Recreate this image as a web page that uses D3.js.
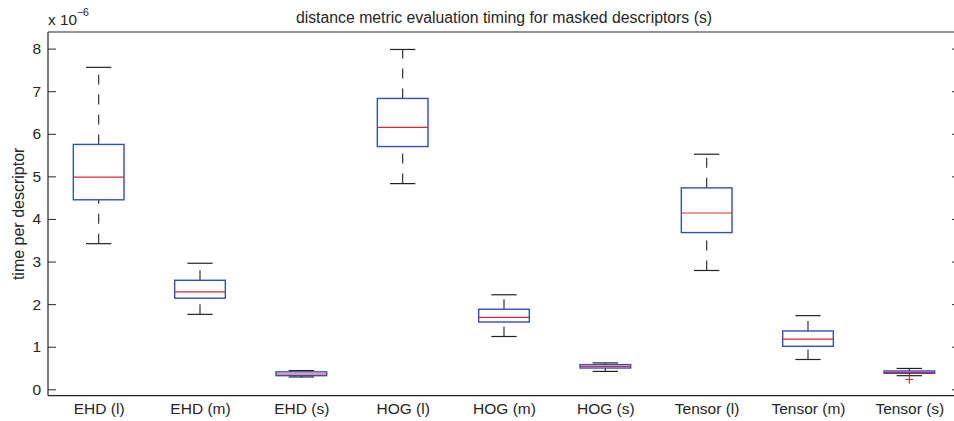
<!DOCTYPE html>
<html>
<head>
<meta charset="utf-8">
<script src="https://cdn.jsdelivr.net/npm/d3@7/dist/d3.min.js"></script>
<style>
  html, body { margin: 0; padding: 0; background: #fff; }
  text { font-family: "Liberation Sans", Arial, Helvetica, sans-serif; fill: #262626; }
</style>
</head>
<body>
<svg id="chart" width="954" height="421"></svg>
<script>
'use strict';

// categories and box statistics (x 1e-6 s)
var categories = ['EHD (l)', 'EHD (m)', 'EHD (s)', 'HOG (l)', 'HOG (m)', 'HOG (s)',
  'Tensor (l)', 'Tensor (m)', 'Tensor (s)'];
var upperWhisker = [7.56, 2.96, 0.44, 7.98, 2.22, 0.62, 5.52, 1.73, 0.49];
var q3 = [5.75, 2.56, 0.41, 6.83, 1.88, 0.58, 4.73, 1.37, 0.43];
var median = [4.98, 2.29, 0.36, 6.15, 1.69, 0.54, 4.14, 1.18, 0.40];
var q1 = [4.45, 2.14, 0.32, 5.70, 1.58, 0.50, 3.68, 1.01, 0.375];
var lowerWhisker = [3.42, 1.76, 0.29, 4.83, 1.24, 0.42, 2.79, 0.70, 0.32];
// outliers as [category index, value]
var outliers = [[8, 0.23]];
var yTicks = [0, 1, 2, 3, 4, 5, 6, 7, 8];

var title = 'distance metric evaluation timing for masked descriptors (s)';
var yLabel = 'time per descriptor';

var svg = d3.select('#chart');

// right edge of the axes lies just outside the picture
var plot = { left: 48, top: 32, right: 960, bottom: 395.7 };

var x = d3.scaleLinear().domain([0.5, 9.5]).range([plot.left, plot.right]);
var y = d3.scaleLinear().domain([-0.15, 8.39]).range([plot.bottom, plot.top]);

var boxHalf = (x(1.25) - x(1));      // box width 0.5
var capHalf = boxHalf / 2;

var frame = svg.append('g').attr('stroke', '#262626').attr('stroke-width', 1.2).attr('fill', 'none');
frame.append('line').attr('x1', plot.left).attr('x2', plot.left).attr('y1', plot.top).attr('y2', plot.bottom);
frame.append('line').attr('x1', plot.left).attr('x2', plot.right).attr('y1', plot.bottom).attr('y2', plot.bottom);
frame.append('line').attr('x1', plot.left).attr('x2', plot.right).attr('y1', plot.top).attr('y2', plot.top);
frame.append('line').attr('x1', plot.right).attr('x2', plot.right).attr('y1', plot.top).attr('y2', plot.bottom);

// y ticks, left and right, pointing inward
var leftAxis = d3.axisLeft(y).tickValues(yTicks).tickSizeInner(-8).tickSizeOuter(0).tickPadding(7)
  .tickFormat(d3.format('d'));
var gl = svg.append('g').attr('transform', 'translate(' + plot.left + ',0)').call(leftAxis);
gl.select('.domain').remove();
gl.selectAll('.tick line').attr('stroke', '#262626').attr('stroke-width', 1);
gl.selectAll('.tick text').attr('font-size', 15.5).attr('fill', '#262626')
  .attr('font-family', '"Liberation Sans", Arial, sans-serif');

var rightAxis = d3.axisRight(y).tickValues(yTicks).tickSizeInner(-8).tickSizeOuter(0).tickFormat('');
var gr = svg.append('g').attr('transform', 'translate(' + plot.right + ',0)').call(rightAxis);
gr.select('.domain').remove();
gr.selectAll('.tick line').attr('stroke', '#262626').attr('stroke-width', 1);

// category labels
var xb = d3.axisBottom(x).tickValues(d3.range(1, categories.length + 1)).tickSize(0).tickPadding(7)
  .tickFormat(function(d) { return categories[d - 1]; });
var gx = svg.append('g').attr('transform', 'translate(0,' + plot.bottom + ')').call(xb);
gx.select('.domain').remove();
gx.selectAll('.tick text').attr('font-size', 15.5).attr('fill', '#262626')
  .attr('font-family', '"Liberation Sans", Arial, sans-serif');

// boxes
var idx = d3.range(categories.length);
var boxes = svg.append('g').selectAll('g.box').data(idx).enter().append('g').attr('class', 'box');

// whiskers drawn from low to high value, like the original
boxes.append('line')
  .attr('x1', function(i) { return x(i + 1); }).attr('x2', function(i) { return x(i + 1); })
  .attr('y1', function(i) { return y(q3[i]); }).attr('y2', function(i) { return y(upperWhisker[i]); })
  .attr('stroke', '#333').attr('stroke-width', 1.2).attr('stroke-dasharray', '10,10');
boxes.append('line')
  .attr('x1', function(i) { return x(i + 1); }).attr('x2', function(i) { return x(i + 1); })
  .attr('y1', function(i) { return y(lowerWhisker[i]); }).attr('y2', function(i) { return y(q1[i]); })
  .attr('stroke', '#333').attr('stroke-width', 1.2).attr('stroke-dasharray', '10,10');

// caps
[upperWhisker, lowerWhisker].forEach(function(arr) {
  boxes.append('line')
    .attr('x1', function(i) { return x(i + 1) - capHalf; }).attr('x2', function(i) { return x(i + 1) + capHalf; })
    .attr('y1', function(i) { return y(arr[i]); }).attr('y2', function(i) { return y(arr[i]); })
    .attr('stroke', '#222').attr('stroke-width', 1.2);
});

boxes.append('rect')
  .attr('x', function(i) { return x(i + 1) - boxHalf; })
  .attr('width', boxHalf * 2)
  .attr('y', function(i) { return y(q3[i]); })
  .attr('height', function(i) { return y(q1[i]) - y(q3[i]); })
  .attr('fill', 'none').attr('stroke', '#2f4fbf').attr('stroke-width', 1.4);

boxes.append('line')
  .attr('x1', function(i) { return x(i + 1) - boxHalf; }).attr('x2', function(i) { return x(i + 1) + boxHalf; })
  .attr('y1', function(i) { return y(median[i]); }).attr('y2', function(i) { return y(median[i]); })
  .attr('stroke', '#e0262b').attr('stroke-width', 1.2);

// outliers as red plus signs
svg.append('g').selectAll('path').data(outliers).enter().append('path')
  .attr('d', function(d) {
    var cx = x(d[0] + 1), cy = y(d[1]), r = 4;
    return 'M' + (cx - r) + ',' + cy + 'H' + (cx + r) + 'M' + cx + ',' + (cy - r) + 'V' + (cy + r);
  })
  .attr('stroke', '#ee2222').attr('stroke-width', 1.2).attr('fill', 'none');

// title
svg.append('text').attr('x', (plot.left + plot.right) / 2).attr('y', 23)
  .attr('text-anchor', 'middle').attr('font-size', 15.8).text(title);

// y label
svg.append('text')
  .attr('transform', 'translate(24,' + ((plot.top + plot.bottom) / 2) + ') rotate(-90)')
  .attr('text-anchor', 'middle').attr('font-size', 16).text(yLabel);

// exponent
var ex = svg.append('text').attr('x', 48).attr('y', 25).attr('font-size', 15.3);
ex.append('tspan').text('x 10');
ex.append('tspan').attr('dy', -9).attr('font-size', 10.5).text('\u22126');
</script>
</body>
</html>
